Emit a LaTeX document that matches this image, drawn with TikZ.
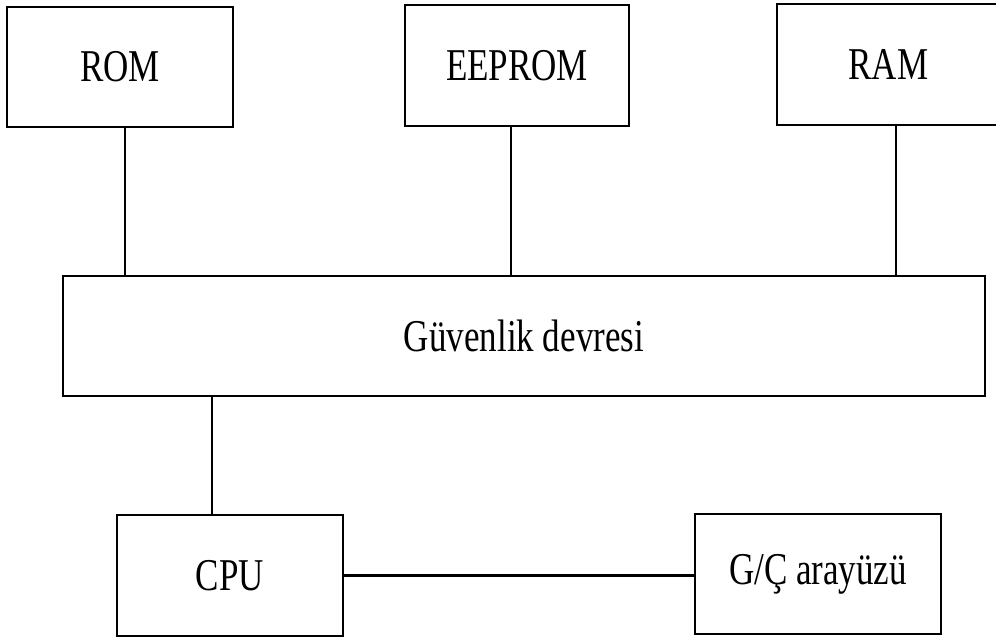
\documentclass[tikz,border=0pt]{standalone}
\usepackage{fontspec}
\setmainfont{Liberation Serif}
\newcommand{\boxlabel}[1]{\scalebox{1}[1.3]{#1}}
\begin{document}
\begin{tikzpicture}[x=1pt,y=-1pt,
  unit/.style={draw, line width=2.5pt, inner sep=0pt, rectangle,
    font=\fontsize{35}{40}\selectfont},
  wire/.style={line width=2.2pt}]
  \clip (0,0) rectangle (996,640);
  \fill[white] (0,0) rectangle (996,640);

  % memory blocks along the top
  \node[unit, minimum width=226pt, minimum height=120pt] (rom) at (120,67) {\boxlabel{ROM}};
  \node[unit, minimum width=224pt, minimum height=121pt] (eeprom) at (517,65.5) {\boxlabel{EEPROM}};
  \node[unit, minimum width=223pt, minimum height=121pt] (ram) at (888.5,64.5) {\boxlabel{RAM}};

  % security circuit in the middle
  \node[unit, minimum width=922pt, minimum height=120pt] (gd) at (524,336) {\boxlabel{Güvenlik devresi}};

  % processor and I/O interface at the bottom
  \node[unit, minimum width=226pt, minimum height=121pt] (cpu) at (230,575.5) {\boxlabel{CPU}};
  \node[unit, minimum width=246pt, minimum height=120pt] (io) at (818,574) {\boxlabel{G/Ç arayüzü}};

  % connections
  \draw[wire] ([xshift=5pt]rom.south) -- ([xshift=5pt]rom.south |- gd.north);
  \draw[wire] ([xshift=-6pt]eeprom.south) -- ([xshift=-6pt]eeprom.south |- gd.north);
  \draw[wire] ([xshift=7.5pt]ram.south) -- ([xshift=7.5pt]ram.south |- gd.north);
  \draw[wire] ([xshift=-18pt]cpu.north) -- ([xshift=-18pt]cpu.north |- gd.south);
  \draw[wire] (cpu.east) -- (io.west |- cpu.east);
\end{tikzpicture}
\end{document}
